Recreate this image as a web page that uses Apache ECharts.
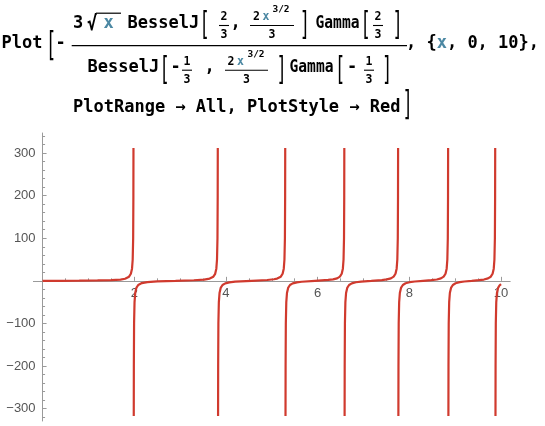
<!DOCTYPE html>
<html><head><meta charset="utf-8">
<script src="https://cdn.jsdelivr.net/npm/echarts@6/dist/echarts.min.js"></script>
<style>html,body{margin:0;padding:0;background:#fff}#c{width:545px;height:426px}</style>
</head><body><div id="c"></div>
<script>
// ---- data: branches of the curve between poles ----
const seg1 = [[0,0],[0.4,0.08],[0.8,0.33],[1.2,0.85],[1.5,1.7],[1.7,3.0],[1.8,4.9],[1.886,9.8],[1.926,16.6],[1.951,28.5],[1.966,50],[1.976,100],[1.981,200],[1.9828,312]];
const seg2 = [[1.989,-317],[1.991,-200],[1.996,-100],[2.006,-50],[2.021,-28.5],[2.046,-16.5],[2.086,-9.8],[2.166,-5.3],[2.286,-3.0],[2.5,-1.2],[2.9,0],[3.3,1.4],[3.525,3.0],[3.645,5.3],[3.725,9.8],[3.765,16.4],[3.79,28.5],[3.805,50],[3.815,100],[3.82,200],[3.8218,312]];
const seg3 = [[3.828,-317],[3.83,-200],[3.835,-100],[3.845,-50],[3.86,-28.5],[3.885,-16.6],[3.925,-9.8],[3.985,-6.0],[4.075,-3.6],[4.2,-2.0],[4.56,0],[4.9,1.9],[5.046,3.7],[5.116,5.3],[5.196,9.8],[5.236,16.6],[5.261,28.5],[5.276,50],[5.286,100],[5.291,200],[5.2928,312]];
const seg4 = [[5.299,-317],[5.301,-200],[5.306,-100],[5.316,-50],[5.331,-28.5],[5.356,-16.6],[5.396,-9.8],[5.456,-6.0],[5.546,-3.5],[5.65,-2.2],[5.94,0],[6.23,2.2],[6.335,3.5],[6.425,5.9],[6.485,9.8],[6.525,16.6],[6.55,28.5],[6.565,50],[6.575,100],[6.58,200],[6.5818,312]];
const seg5 = [[6.588,-317],[6.59,-200],[6.595,-100],[6.605,-50],[6.62,-28.5],[6.645,-16.6],[6.685,-9.8],[6.745,-5.9],[6.835,-3.3],[6.95,-1.7],[7.17,0],[7.4,1.8],[7.508,3.4],[7.598,5.9],[7.658,9.8],[7.698,16.6],[7.723,28.5],[7.738,50],[7.748,100],[7.753,200],[7.7548,312]];
const seg6 = [[7.761,-317],[7.763,-200],[7.768,-100],[7.778,-50],[7.793,-28.5],[7.818,-16.6],[7.858,-9.8],[7.918,-5.8],[8.008,-3.2],[8.12,-1.6],[8.3,0],[8.48,1.6],[8.599,3.2],[8.689,5.8],[8.749,9.8],[8.789,16.6],[8.814,28.5],[8.829,50],[8.839,100],[8.844,200],[8.8458,312]];
const seg7 = [[8.852,-317],[8.854,-200],[8.859,-100],[8.869,-50],[8.884,-28.5],[8.909,-16.6],[8.949,-9.7],[9.009,-5.7],[9.099,-3.0],[9.2,-1.5],[9.36,0],[9.52,1.6],[9.626,3.0],[9.716,5.7],[9.776,9.7],[9.816,16.6],[9.841,28.5],[9.856,50],[9.866,100],[9.871,200],[9.8728,312]];
const seg8 = [[9.879,-317],[9.881,-200],[9.886,-100],[9.896,-50],[9.911,-28.5],[9.936,-16.4],[9.966,-11],[10,-7.6]];

const xTickLabels = [2, 4, 6, 8, 10];
const xMinorTicks = [0.5, 1, 1.5, 2.5, 3, 3.5, 4.5, 5, 5.5, 6.5, 7, 7.5, 8.5, 9, 9.5];
const yTickLabels = [-300, -200, -100, 100, 200, 300];
const yMinorTicks = [-320,-280,-260,-240,-220,-180,-160,-140,-120,-80,-60,-40,-20,20,40,60,80,120,140,160,180,220,240,260,280,320,340];

// ---- styling / layout ----
const RED = '#d03a2e';
const AXIS = '#9a9a9a';
const LABEL = '#555555';
const BLUE = '#4c88a3';
const MONO = '"DejaVu Sans Mono"';
const FS = 17;

const W = 545, H = 426;
const GRID = { left: 33.4, right: 34.8, top: 133, bottom: 5 };
const XR = [-0.2, 10.2], YR = [-329, 347];
// place axes through the origin (Mathematica style) using offsets from the grid edges
const gridW = W - GRID.left - GRID.right, gridH = H - GRID.top - GRID.bottom;
const zeroY = GRID.top + (YR[1] - 0) / (YR[1] - YR[0]) * gridH;
const zeroX = GRID.left + (0 - XR[0]) / (XR[1] - XR[0]) * gridW;
const xOffset = -((H - GRID.bottom) - zeroY);
const yOffset = -(zeroX - GRID.left);

const segments = [seg1, seg2, seg3, seg4, seg5, seg6, seg7, seg8];

// ---- formula text as graphic elements ----
const cv = document.createElement('canvas').getContext('2d');
function widthOf(text, font) { cv.font = font; return cv.measureText(text).width; }

function T(text, x, y, o) {
  o = o || {};
  const font = o.font || ('bold ' + (o.size || FS) + 'px ' + MONO);
  const align = o.align || 'left';
  let sx = 1;
  if (o.fitWidth) sx = o.fitWidth / widthOf(text, font);
  return {
    type: 'text', x: x, y: y, scaleX: sx, scaleY: o.sy || 1, silent: true, z: 10,
    style: { text: text, font: font, fill: o.color || '#000',
      align: align, textAlign: align, verticalAlign: 'middle', textVerticalAlign: 'middle' }
  };
}
function L(x1, y1, x2, y2, w) {
  return { type: 'line', silent: true, z: 10, shape: { x1: x1, y1: y1, x2: x2, y2: y2 },
    style: { stroke: '#000', lineWidth: w || 1.2 } };
}
const BR = (ch, x, y, h) => T(ch, x, y, { align: 'center', font: 'normal 17px ' + MONO, sy: h / 15 });
const SMALL = 'bold 11.5px ' + MONO;
const SUP = 'bold 9.5px ' + MONO;
const GAMMA = 'bold 17px ' + MONO;
function frac(a, b, cx, barY, halfW) {
  return [T(a, cx, barY - 8.2, { align: 'center', font: SMALL }),
          L(cx - halfW, barY, cx + halfW, barY, 1.1),
          T(b, cx, barY + 9.5, { align: 'center', font: SMALL })];
}

const r0 = 44, r1 = 23.3, r2 = 68, r3 = 108;
const g = [];
// row 0
g.push(T('Plot', 1.5, r0));
g.push(BR('[', 51, 46.7, 30));
g.push(T('-', 60.5, r0, { align: 'center' }));
g.push(L(71.7, 45.7, 407, 45.7, 1.3));
g.push(T(', {', 406, r0));
g.push(T('x', 406 + 3 * 10.23, r0, { color: BLUE }));
g.push(T(', 0, 10},', 406 + 4 * 10.23, r0));
// numerator
g.push(T('3', 78, r1, { align: 'center' }));
g.push(T('\u221A', 92, r1 + 1, { align: 'center', sy: 1.2 }));
g.push(L(96, 13.2, 121, 13.2, 1.2));
g.push(T('x', 108.5, r1, { align: 'center', color: BLUE }));
g.push(T('BesselJ', 127.5, r1));
g.push(BR('[', 204.5, 25.8, 28));
g.push(...frac('2', '3', 224, 25.5, 5));
g.push(T(',', 235.5, r1, { align: 'center' }));
g.push(T('2', 256.5, 17.3, { align: 'center', font: SMALL }));
g.push(T('x', 266, 17.3, { align: 'center', font: SMALL, color: BLUE }));
g.push(T('3/2', 281, 10, { align: 'center', font: SUP }));
g.push(L(250, 25.5, 294, 25.5, 1.1));
g.push(T('3', 272, 35, { align: 'center', font: SMALL }));
g.push(BR(']', 304.8, 25.8, 28));
g.push(T('Gamma', 315.5, r1, { font: GAMMA, fitWidth: 44 }));
g.push(BR('[', 365.5, 25.8, 28));
g.push(...frac('2', '3', 378, 25.5, 5));
g.push(BR(']', 397.5, 25.8, 28));
// denominator
const d = 44.7;
g.push(T('BesselJ', 87.5, r2));
g.push(BR('[', 164.5, 25.8 + d, 28));
g.push(T('-', 175.5, r2, { align: 'center' }));
g.push(...frac('1', '3', 187, 25.5 + d, 5));
g.push(T(',', 209.5, r2, { align: 'center' }));
g.push(T('2', 231, 17.3 + d, { align: 'center', font: SMALL }));
g.push(T('x', 240.5, 17.3 + d, { align: 'center', font: SMALL, color: BLUE }));
g.push(T('3/2', 256, 10 + d, { align: 'center', font: SUP }));
g.push(L(225, 25.5 + d, 268, 25.5 + d, 1.1));
g.push(T('3', 246.5, 35 + d, { align: 'center', font: SMALL }));
g.push(BR(']', 281.5, 25.8 + d, 28));
g.push(T('Gamma', 289.5, r2, { font: GAMMA, fitWidth: 44 }));
g.push(BR('[', 340, 25.8 + d, 28));
g.push(T('-', 352, r2, { align: 'center' }));
g.push(...frac('1', '3', 369, 25.5 + d, 5));
g.push(BR(']', 387, 25.8 + d, 28));
// row 3
g.push(T('PlotRange \u2192 All, PlotStyle \u2192 Red', 73, r3));
g.push(BR(']', 407.5, 106, 30));

const negFmt = v => (v < 0 ? '\u2212' + Math.abs(v) : String(v));

const option = {
  animation: false,
  backgroundColor: '#fff',
  grid: { left: GRID.left, right: GRID.right, top: GRID.top, bottom: GRID.bottom, containLabel: false, outerBoundsMode: 'none' },
  xAxis: [{
    type: 'value', min: XR[0], max: XR[1], position: 'bottom', offset: xOffset,
    axisLine: { onZero: false, lineStyle: { color: AXIS, width: 1 } },
    axisTick: { inside: true, length: 4, customValues: xTickLabels, lineStyle: { color: AXIS } },
    axisLabel: { customValues: xTickLabels, margin: 6, color: LABEL, fontSize: 13, fontFamily: 'Liberation Sans' },
    splitLine: { show: false }
  }, {
    type: 'value', min: XR[0], max: XR[1], position: 'bottom', offset: xOffset,
    axisLine: { show: false, onZero: false },
    axisTick: { inside: true, length: 2.5, customValues: xMinorTicks, lineStyle: { color: AXIS } },
    axisLabel: { show: false }, splitLine: { show: false }
  }],
  yAxis: [{
    type: 'value', min: YR[0], max: YR[1], position: 'left', offset: yOffset,
    axisLine: { onZero: false, lineStyle: { color: AXIS, width: 1 } },
    axisTick: { inside: true, length: 4, customValues: yTickLabels, lineStyle: { color: AXIS } },
    axisLabel: { customValues: yTickLabels, margin: 7, color: LABEL, fontSize: 13, fontFamily: 'Liberation Sans', formatter: negFmt },
    splitLine: { show: false }
  }, {
    type: 'value', min: YR[0], max: YR[1], position: 'left', offset: yOffset,
    axisLine: { show: false, onZero: false },
    axisTick: { inside: true, length: 2.5, customValues: yMinorTicks, lineStyle: { color: AXIS } },
    axisLabel: { show: false }, splitLine: { show: false }
  }],
  series: segments.map(s => ({
    type: 'line', data: s, xAxisIndex: 0, yAxisIndex: 0,
    symbol: 'none', showSymbol: false, clip: true, z: 5,
    lineStyle: { color: RED, width: 2.2 }
  })),
  graphic: g
};
const chart = echarts.init(document.getElementById('c'));
chart.setOption(option);
</script>
</body></html>
